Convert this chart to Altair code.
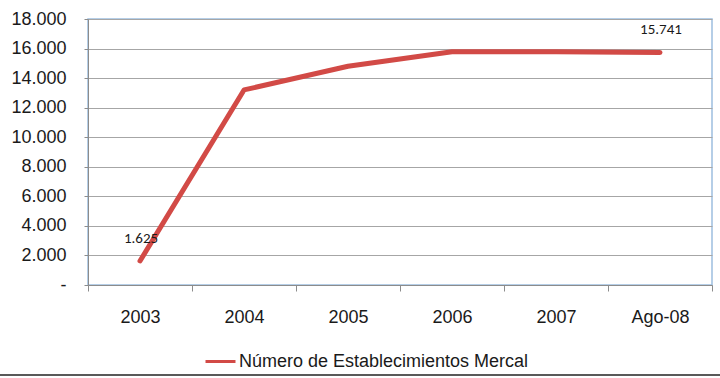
import altair as alt
import pandas as pd

categories = ["2003", "2004", "2005", "2006", "2007", "Ago-08"]
values = [1625, 13200, 14800, 15780, 15780, 15741]
series_name = "Número de Establecimientos Mercal"
y_ticks = [0, 2000, 4000, 6000, 8000, 10000, 12000, 14000, 16000, 18000]

df = pd.DataFrame({"cat": categories, "val": values, "serie": [series_name] * len(categories)})
lab_df = pd.DataFrame({"cat": ["2003", "Ago-08"], "val": [1625, 15741],
                       "txt": ["1.625", "15.741"]})

RED = "#d24a46"
FONT = "Liberation Sans"

x_enc = alt.X("cat:N", sort=categories, title=None,
              scale=alt.Scale(paddingInner=0, paddingOuter=0),
              axis=alt.Axis(labelAngle=0, labelFontSize=18, labelColor="#1a1a1a",
                            labelFont=FONT, labelPadding=17, tickBand="extent",
                            labelOverlap=False,
                            tickSize=6, tickColor="#8c8c8c", domainColor="#8c8c8c",
                            grid=False))
y_enc = alt.Y("val:Q", title=None,
              scale=alt.Scale(domain=[0, 18000], nice=False),
              axis=alt.Axis(values=y_ticks,
                            labelExpr="datum.value == 0 ? '-' : replace(format(datum.value, ',.0f'), ',', '.')",
                            labelFontSize=18, labelColor="#1a1a1a", labelFont=FONT,
                            labelOverlap=False, labelBound=False, labelFlush=False,
                            labelPadding=18, tickSize=4, tickColor="#8c8c8c",
                            domainColor="#8c8c8c", gridColor="#a6a6a6", gridWidth=1))

line = alt.Chart(df).mark_line(strokeWidth=5, strokeCap="round", strokeJoin="round").encode(
    x=x_enc, y=y_enc,
    color=alt.Color("serie:N", scale=alt.Scale(range=[RED]),
                    legend=alt.Legend(title=None, orient="none", legendX=116, legendY=326,
                                      symbolType="stroke", symbolSize=900, symbolStrokeWidth=3,
                                      labelFontSize=18, labelFont=FONT, labelColor="#1a1a1a",
                                      labelOffset=2, labelLimit=400, symbolOffset=0)))

labels = alt.Chart(lab_df).mark_text(fontSize=15, font="Calibri, Carlito, DejaVu Sans",
                                     color="#1a1a1a", dx=1, dy=-23).encode(
    x=x_enc, y=y_enc, text="txt:N")

bottom_rule = alt.Chart(pd.DataFrame({"a": [0]})).mark_rule(color="#222222", strokeWidth=1.5, clip=False).encode(
    x=alt.value(-88), x2=alt.value(632), y=alt.value(356))

chart = alt.layer(line, labels, bottom_rule).properties(
    width=624, height=266,
    padding={"left": 88, "top": 19, "right": 8, "bottom": 93},
    autosize=alt.AutoSizeParams(type="none"),
    background="white"
).configure_view(stroke="#9dbfe0", strokeWidth=1.5)

chart.save("out.html", embed_options={"renderer": "svg", "actions": False})
